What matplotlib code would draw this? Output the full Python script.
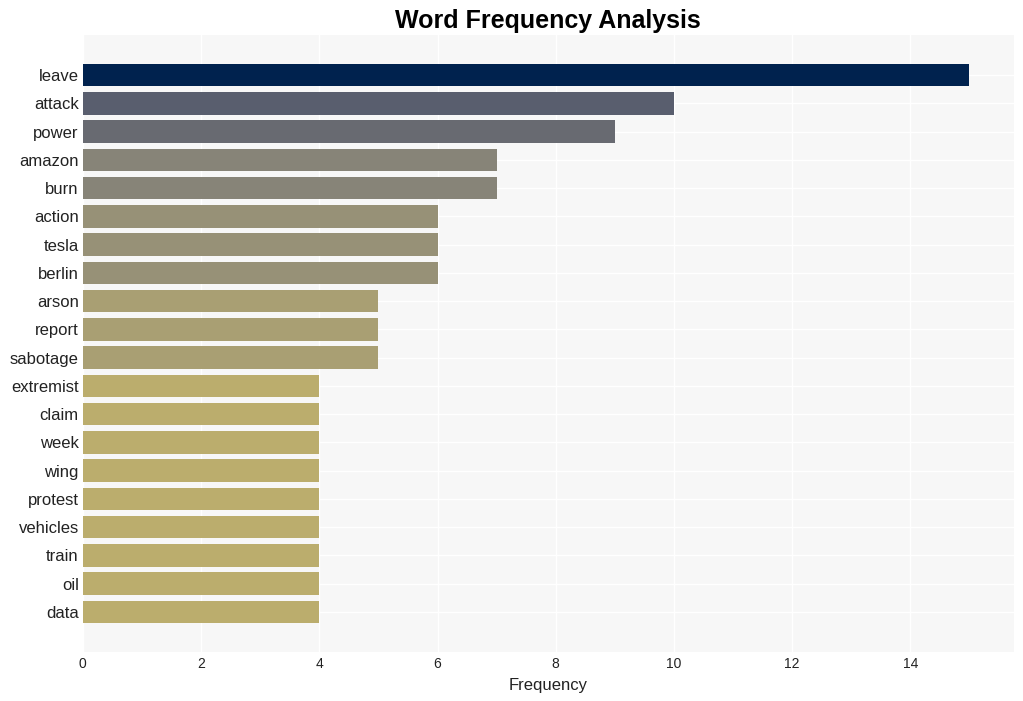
import numpy as np
import matplotlib.pyplot as plt

# --- data ---
words = ['leave', 'attack', 'power', 'amazon', 'burn', 'action', 'tesla', 'berlin',
         'arson', 'report', 'sabotage', 'extremist', 'claim', 'week', 'wing',
         'protest', 'vehicles', 'train', 'oil', 'data']
counts = [15, 10, 9, 7, 7, 6, 6, 6, 5, 5, 5, 4, 4, 4, 4, 4, 4, 4, 4, 4]

plt.rcParams['font.family'] = ['Liberation Sans', 'DejaVu Sans']

fig, ax = plt.subplots(figsize=(10.23, 7.01), dpi=100)
fig.subplots_adjust(left=0.081, right=0.991, top=0.95, bottom=0.07)

vals = np.array(counts, dtype=float)
# cividis, darkest for the most frequent word
shade = 0.068 * (vals.max() - vals)
colors = plt.cm.cividis(shade)

y = np.arange(len(words))
ax.barh(y, vals, height=0.8, color=colors, zorder=3)

ax.set_yticks(y)
ax.set_yticklabels(words, fontsize=12, color='#222222')
ax.set_ylim(len(words) - 1 + 1.415, -1.415)
ax.set_xlim(0, 15.75)
ax.set_xticks(np.arange(0, 15, 2))
ax.tick_params(axis='x', labelsize=10, colors='#222222', length=0, pad=4)
ax.tick_params(axis='y', length=0, pad=3)

ax.set_facecolor('#f7f7f7')
ax.grid(True, color='white', linewidth=1, zorder=0)
ax.set_axisbelow(True)
for s in ax.spines.values():
    s.set_visible(False)

ax.set_xlabel('Frequency', fontsize=12, color='#222222', labelpad=5)
ax.set_title('Word Frequency Analysis', fontsize=18, fontweight='bold', pad=5)

fig.savefig('out.png', dpi=100)
